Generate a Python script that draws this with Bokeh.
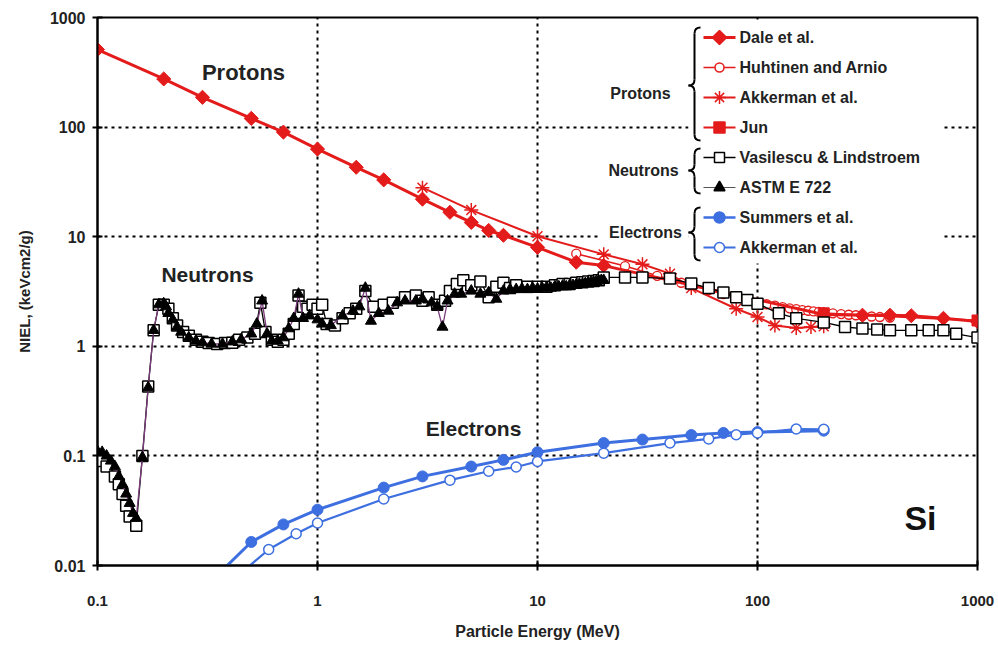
import math
from bokeh.plotting import figure
from bokeh.models import FixedTicker, Range1d
from bokeh.embed import file_html
from bokeh.resources import INLINE
from bokeh.core.properties import value

# ---------------- data ----------------
# Protons
dale_e = [0.1, 0.2, 0.3, 0.5, 0.7, 1, 1.5, 2, 3, 4, 5, 6, 7, 10, 15, 20, 200, 300, 400, 500, 700, 1000]
dale_v = [510, 275, 187, 120, 90, 63, 43, 33, 22, 16.7, 13.5, 11.4, 10.3, 8.0, 5.85, 5.45, 1.95, 1.92, 1.92, 1.9, 1.8, 1.68]

huht_e = [15, 25, 35, 40, 45, 50, 60, 70, 80, 90, 100, 110, 120, 130, 140, 150, 160, 170, 180, 190,
          200, 220, 240, 260, 280, 300, 330, 360, 400]
huht_v = [7.0, 5.4, 4.4, 4.1, 3.8, 3.6, 3.25, 3.0, 2.8, 2.65, 2.5, 2.42, 2.35, 2.28, 2.22, 2.18, 2.14, 2.11, 2.08, 2.06,
          2.04, 2.0, 1.97, 1.94, 1.92, 1.9, 1.87, 1.85, 1.83]

akp_e = [3, 5, 10, 20, 30, 40, 50, 80, 100, 120, 150, 175, 200]
akp_v = [28, 17.5, 10.1, 6.9, 5.6, 4.6, 3.4, 2.2, 1.85, 1.55, 1.47, 1.5, 1.52]

jun_e = [200, 1000]
jun_v = [2.0, 1.72]

# Neutrons
vas_e = [0.10, 0.105, 0.11, 0.12, 0.125, 0.13, 0.135, 0.14, 0.15, 0.16, 0.17, 0.18, 0.19, 0.20, 0.21, 0.22,
         0.23, 0.245, 0.26, 0.28, 0.30, 0.32, 0.35, 0.38, 0.41, 0.44, 0.48, 0.52, 0.55, 0.58, 0.62, 0.66,
         0.70, 0.74, 0.78, 0.82, 0.86, 0.90, 0.95, 1.0, 1.05, 1.1, 1.2, 1.3, 1.4, 1.5, 1.65, 1.8, 2.0,
         2.2, 2.5, 2.8, 3.0, 3.2, 3.5, 3.8, 4.0, 4.3, 4.6, 5.0, 5.5, 6.0, 6.5, 7.0, 7.5, 8, 9, 10, 11,
         12, 13, 14, 15, 16, 17, 18, 19, 20, 25, 30, 40, 50, 60, 70, 80, 90, 100, 125, 150, 200, 250,
         300, 350, 400, 500, 600, 700, 800, 1000]
vas_v = [0.095, 0.09, 0.08, 0.065, 0.055, 0.045, 0.035, 0.028, 0.023, 0.1, 0.43, 1.4, 2.4, 2.4, 2.2, 1.8,
         1.55, 1.35, 1.25, 1.15, 1.1, 1.07, 1.05, 1.07, 1.08, 1.15, 1.2, 1.3, 2.5, 1.35, 1.15, 1.1,
         1.15, 1.3, 1.6, 2.9, 2.3, 2.2, 2.4, 2.2, 2.4, 1.6, 1.55, 1.8, 2.0, 2.2, 3.2, 2.3, 2.4,
         2.5, 2.8, 2.9, 2.6, 2.8, 2.4, 2.6, 3.2, 3.7, 4.0, 3.6, 3.9, 2.8, 3.5, 3.8, 3.4, 3.6, 3.5, 3.5, 3.5,
         3.6, 3.7, 3.7, 3.8, 3.85, 3.9, 3.95, 4.0, 4.25, 4.25, 4.25, 4.15, 3.75, 3.4, 3.1, 2.8, 2.65, 2.45, 2.0, 1.8, 1.65, 1.5,
         1.45, 1.42, 1.4, 1.4, 1.4, 1.4, 1.3, 1.2]

astm_e = [0.10, 0.105, 0.11, 0.115, 0.12, 0.125, 0.13, 0.135, 0.14, 0.145, 0.15, 0.16, 0.17, 0.18, 0.19,
          0.20, 0.205, 0.21, 0.22, 0.23, 0.24, 0.26, 0.28, 0.30, 0.33, 0.37, 0.41, 0.45, 0.50, 0.53, 0.56,
          0.59, 0.62, 0.66, 0.70, 0.74, 0.78, 0.82, 0.86, 0.92, 1.0, 1.05, 1.15, 1.3, 1.45, 1.55, 1.65,
          1.75, 1.9, 2.1, 2.3, 2.5, 2.8, 3.0, 3.3, 3.5, 3.7, 3.9, 4.2, 4.5, 5.0, 5.5, 6.0, 6.5, 7.0, 7.5,
          8, 8.5, 9, 9.5, 10, 10.5, 11, 11.5, 12, 12.5, 13, 13.5, 14, 14.5, 15, 15.5, 16, 16.5, 17, 17.5,
          18, 18.5, 19, 19.5, 20]
astm_v = [0.110, 0.108, 0.10, 0.09, 0.08, 0.065, 0.055, 0.045, 0.037, 0.030, 0.027, 0.097, 0.42, 1.4, 2.4,
          2.45, 2.3, 2.0, 1.75, 1.5, 1.35, 1.2, 1.12, 1.08, 1.05, 1.05, 1.1, 1.15, 1.3, 1.6, 2.6,
          1.3, 1.12, 1.12, 1.2, 1.45, 1.8, 3.0, 1.8, 1.9, 1.75, 1.6, 1.55, 1.9, 2.1, 2.3, 3.4,
          1.7, 2.0, 2.1, 2.5, 2.6, 2.6, 2.7, 2.5, 2.3, 1.5, 2.6, 3.0, 3.0, 3.2, 3.0, 3.1, 2.7, 3.2, 3.3,
          3.3, 3.35, 3.3, 3.4, 3.35, 3.4, 3.45, 3.4, 3.5, 3.5, 3.55, 3.5, 3.6, 3.6, 3.65, 3.7, 3.7, 3.75, 3.8, 3.85,
          3.85, 3.9, 3.95, 4.0, 4.0]

# Electrons
sum_e = [0.3, 0.5, 0.7, 1, 2, 3, 5, 7, 10, 20, 30, 50, 70, 100, 200]
sum_v = [0.006, 0.0164, 0.0237, 0.0323, 0.0514, 0.065, 0.080, 0.092, 0.108, 0.131, 0.141, 0.155, 0.162, 0.165, 0.17]

ake_e = [0.4, 0.6, 0.8, 1, 2, 4, 6, 8, 10, 20, 40, 60, 80, 100, 150, 200]
ake_v = [0.007, 0.014, 0.0195, 0.0244, 0.0404, 0.0601, 0.0724, 0.0792, 0.089, 0.106, 0.131, 0.143, 0.156, 0.162, 0.176, 0.175]

x_ticks = [0.1, 1, 10, 100, 1000]
x_labels = ["0.1", "1", "10", "100", "1000"]
y_ticks = [0.01, 0.1, 1, 10, 100, 1000]
y_labels = ["0.01", "0.1", "1", "10", "100", "1000"]

legend_names = ["Dale et al.", "Huhtinen and Arnio", "Akkerman et al.", "Jun",
                "Vasilescu & Lindstroem", "ASTM E 722", "Summers et al.", "Akkerman et al."]

RED = "#e41b1b"
BLUE = "#3d6fe0"
PURPLE = "#7a3b7a"
FONT = value("Liberation Sans")
DIAMOND_ANGLE = math.pi / 4

# ---------------- figure ----------------
FL, FT, FW, FH = 97, 17, 880, 548
p = figure(width=998, height=646, x_axis_type="log", y_axis_type="log",
           x_range=Range1d(0.1, 1000), y_range=Range1d(0.01, 1000),
           output_backend="svg", toolbar_location=None,
           min_border_left=FL, min_border_right=998 - FL - FW,
           min_border_top=FT, min_border_bottom=646 - FT - FH)
p.outline_line_color = "black"
p.outline_line_width = 2
p.background_fill_color = "white"
p.border_fill_color = "white"


def X(px):
    return 10 ** (-1 + 4 * (px - FL) / FW)


def Y(py):
    return 10 ** (3 - 5 * (py - FT) / FH)


for ax, ticks, labels in ((p.xaxis, x_ticks, x_labels), (p.yaxis, y_ticks, y_labels)):
    ax.ticker = FixedTicker(ticks=ticks)
    ax.major_label_overrides = {t: l for t, l in zip(ticks, labels)}
    ax.minor_tick_line_color = None
    ax.axis_line_width = 2
    ax.axis_line_color = "black"
    ax.major_tick_line_width = 2
    ax.major_tick_line_color = "black"
    ax.major_tick_in = 5
    ax.major_tick_out = 5
    ax.major_label_text_font = "Liberation Sans"
    ax.major_label_text_font_style = "bold"
    ax.major_label_text_color = "#222222"
    ax.axis_label_text_font = "Liberation Sans"
    ax.axis_label_text_font_style = "bold"
    ax.axis_label_text_color = "#222222"

p.xaxis.major_label_text_font_size = "15px"
p.yaxis.major_label_text_font_size = "16px"
p.xaxis.axis_label = "Particle Energy (MeV)"
p.xaxis.axis_label_text_font_size = "16px"
p.xaxis.major_label_standoff = 25
p.xaxis.axis_label_standoff = 14
p.yaxis.axis_label = "NIEL, (keVcm2/g)"
p.yaxis.axis_label_text_font_size = "15px"
p.yaxis.major_label_standoff = 7
p.yaxis.axis_label_standoff = 14

p.xgrid.ticker = FixedTicker(ticks=x_ticks)
p.ygrid.ticker = FixedTicker(ticks=y_ticks)
for g in (p.xgrid, p.ygrid):
    g.grid_line_color = "black"
    g.grid_line_width = 2
    g.grid_line_dash = "3 4"

# ---------------- series ----------------
# protons
p.line(huht_e, huht_v, line_color=RED, line_width=1.5)
p.scatter(huht_e, huht_v, marker="circle", size=9, fill_color="white", line_color=RED, line_width=1.3)
p.line(akp_e, akp_v, line_color=RED, line_width=2)
p.scatter(akp_e, akp_v, marker="asterisk", size=14, line_color=RED, line_width=1.5)
p.line(jun_e, jun_v, line_color=RED, line_width=2)
p.scatter(jun_e, jun_v, marker="square", size=11, fill_color=RED, line_color=RED)
p.line(dale_e, dale_v, line_color=RED, line_width=3)
p.scatter(dale_e, dale_v, marker="square", angle=DIAMOND_ANGLE, size=10, fill_color=RED, line_color=RED)

# neutrons
p.line(vas_e, vas_v, line_color="black", line_width=1.3)
p.scatter(vas_e, vas_v, marker="square", size=11, fill_color="white", line_color="black", line_width=1.5)
p.line(astm_e, astm_v, line_color=PURPLE, line_width=1.3)
p.scatter(astm_e, astm_v, marker="triangle", size=11, fill_color="black", line_color="black")

# electrons
p.line(sum_e, sum_v, line_color=BLUE, line_width=3)
p.scatter(sum_e, sum_v, marker="circle", size=11, fill_color=BLUE, line_color=BLUE)
p.line(ake_e, ake_v, line_color=BLUE, line_width=2.2)
p.scatter(ake_e, ake_v, marker="circle", size=10, fill_color="white", line_color=BLUE, line_width=1.5)

# in-plot labels
p.text(x=[X(243)], y=[Y(72)], text=["Protons"], text_font=FONT, text_font_style="bold",
       text_font_size="22px", text_align="center", text_baseline="middle", text_color="#222222")
p.text(x=[X(207)], y=[Y(274)], text=["Neutrons"], text_font=FONT, text_font_style="bold",
       text_font_size="21px", text_align="center", text_baseline="middle", text_color="#222222")
p.text(x=[X(473)], y=[Y(428)], text=["Electrons"], text_font=FONT, text_font_style="bold",
       text_font_size="21px", text_align="center", text_baseline="middle", text_color="#222222")
p.text(x=[X(920)], y=[Y(517)], text=["Si"], text_font=FONT, text_font_style="bold",
       text_font_size="34px", text_align="center", text_baseline="middle", text_color="#111111")

# ---------------- custom grouped legend ----------------
p.quad(left=[X(688), X(600)], right=[X(942), X(688)], top=[Y(20), Y(217)], bottom=[Y(263), Y(242)],
       fill_color="white", line_color=None)

row_y = [37 + 30 * i for i in range(8)]
styles = [
    dict(lc=RED, lw=3, marker="square", angle=DIAMOND_ANGLE, size=10, fill=RED, mlc=RED),
    dict(lc=RED, lw=1.3, marker="circle", angle=0, size=9, fill="white", mlc=RED),
    dict(lc=RED, lw=2, marker="asterisk", angle=0, size=13, fill=None, mlc=RED),
    dict(lc=RED, lw=2, marker="square", angle=0, size=11, fill=RED, mlc=RED),
    dict(lc="black", lw=1.5, marker="square", angle=0, size=10, fill="white", mlc="black"),
    dict(lc="#555555", lw=1, marker="triangle", angle=0, size=11, fill="black", mlc="black"),
    dict(lc=BLUE, lw=2.5, marker="circle", angle=0, size=11, fill=BLUE, mlc=BLUE),
    dict(lc=BLUE, lw=2, marker="circle", angle=0, size=10, fill="white", mlc=BLUE),
]
for ry, st, name in zip(row_y, styles, legend_names):
    p.segment(x0=[X(703)], y0=[Y(ry)], x1=[X(735)], y1=[Y(ry)], line_color=st["lc"], line_width=st["lw"])
    p.scatter(x=[X(719)], y=[Y(ry)], marker=st["marker"], angle=st["angle"], size=st["size"],
              fill_color=st["fill"], line_color=st["mlc"], line_width=1.5)
    p.text(x=[X(739)], y=[Y(ry)], text=[name], text_font=FONT, text_font_style="bold",
           text_font_size="16px", text_align="left", text_baseline="middle", text_color="#222222")

groups = [("Protons", 27, 140, 85, 640), ("Neutrons", 148, 193, 170, 643), ("Electrons", 207, 260, 232, 645)]
for gname, top, bot, mid, cx in groups:
    p.text(x=[X(cx)], y=[Y(mid + 8 if gname == "Protons" else mid)], text=[gname], text_font=FONT,
           text_font_style="bold", text_font_size="16px", text_align="center", text_baseline="middle",
           text_color="#222222")
    xt, xe = 688, 700
    xs = (xt + xe) / 2
    r = 6
    q = [((xe, top), (xs, top), (xs, top + r)),
         ((xs, mid - r), (xs, mid), (xt, mid)),
         ((xt, mid), (xs, mid), (xs, mid + r)),
         ((xs, bot - r), (xs, bot), (xe, bot))]
    p.quadratic(x0=[X(a[0]) for a, c, b in q], y0=[Y(a[1]) for a, c, b in q],
                x1=[X(b[0]) for a, c, b in q], y1=[Y(b[1]) for a, c, b in q],
                cx=[X(c[0]) for a, c, b in q], cy=[Y(c[1]) for a, c, b in q],
                line_color="black", line_width=2)
    p.segment(x0=[X(xs), X(xs)], y0=[Y(top + r), Y(mid + r)], x1=[X(xs), X(xs)], y1=[Y(mid - r), Y(bot - r)],
              line_color="black", line_width=2)

open("out.html", "w").write(file_html(p, INLINE))
